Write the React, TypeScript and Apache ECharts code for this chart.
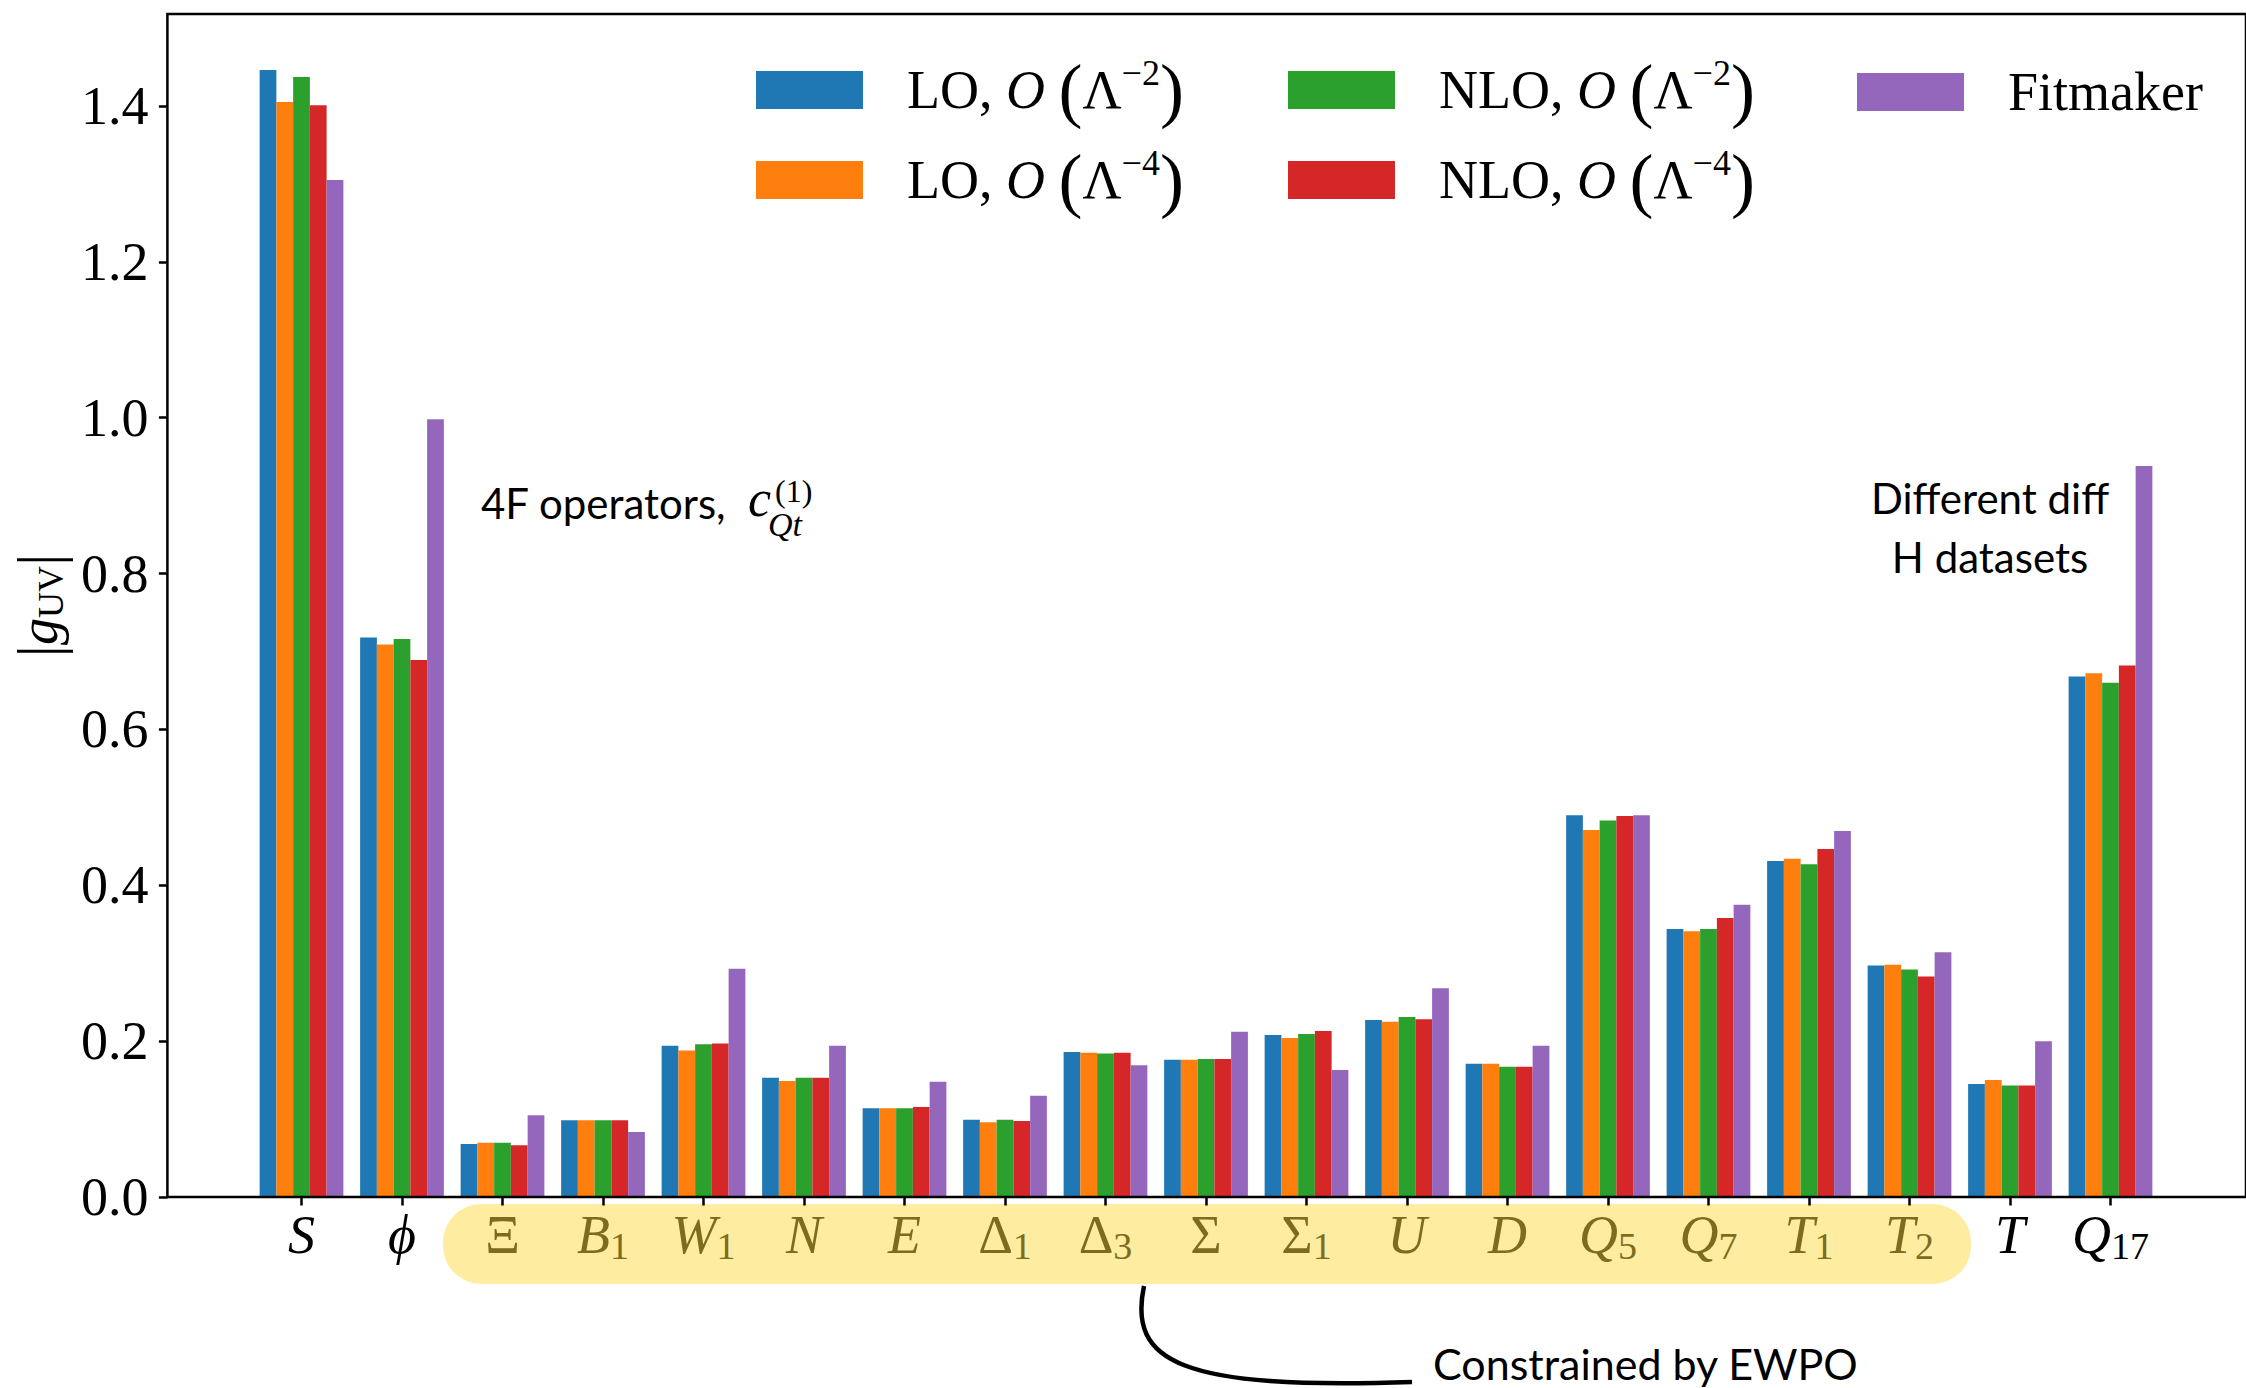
import React, { useEffect, useRef } from 'react';
import * as echarts from 'echarts';

// ---------- data ----------
const categories = ['S', 'ϕ', 'Ξ', 'B1', 'W1', 'N', 'E', 'Δ1', 'Δ3', 'Σ', 'Σ1', 'U', 'D', 'Q5', 'Q7', 'T1', 'T2', 'T', 'Q17'];
const labelBase = ['S', 'ϕ', 'Ξ', 'B', 'W', 'N', 'E', 'Δ', 'Δ', 'Σ', 'Σ', 'U', 'D', 'Q', 'Q', 'T', 'T', 'T', 'Q'];
const labelSub = ['', '', '', '1', '1', '', '', '1', '3', '', '1', '', '', '5', '7', '1', '2', '', '17'];
const labelItalic = [true, true, false, true, true, true, true, false, false, false, false, true, true, true, true, true, true, true, true];
const ewpoFirst = 2;
const ewpoLast = 16;

const seriesNames = ['LO, O(Λ⁻²)', 'LO, O(Λ⁻⁴)', 'NLO, O(Λ⁻²)', 'NLO, O(Λ⁻⁴)', 'Fitmaker'];
const seriesOrder = ['LO', 'LO', 'NLO', 'NLO', ''];
const seriesExp = ['−2', '−4', '−2', '−4', ''];
const seriesColors = ['#1f77b4', '#ff7f0e', '#2ca02c', '#d62728', '#9467bd'];

const loL2 = [1.446, 0.718, 0.068, 0.0985, 0.194, 0.153, 0.114, 0.099, 0.186, 0.176, 0.208, 0.227, 0.171, 0.490, 0.344, 0.431, 0.297, 0.145, 0.668];
const loL4 = [1.405, 0.709, 0.0695, 0.0985, 0.188, 0.149, 0.114, 0.096, 0.185, 0.176, 0.204, 0.225, 0.171, 0.471, 0.341, 0.434, 0.298, 0.150, 0.672];
const nloL2 = [1.437, 0.716, 0.0695, 0.0985, 0.196, 0.153, 0.114, 0.099, 0.184, 0.177, 0.209, 0.231, 0.167, 0.483, 0.344, 0.427, 0.292, 0.143, 0.660];
const nloL4 = [1.401, 0.689, 0.0665, 0.0985, 0.197, 0.153, 0.1155, 0.0976, 0.185, 0.177, 0.213, 0.228, 0.167, 0.489, 0.358, 0.4465, 0.283, 0.143, 0.682];
const fitmaker = [1.305, 0.998, 0.105, 0.0834, 0.293, 0.194, 0.148, 0.130, 0.169, 0.212, 0.163, 0.268, 0.194, 0.490, 0.375, 0.4695, 0.314, 0.200, 0.938];
const seriesData = [loL2, loL4, nloL2, nloL4, fitmaker];

const yTicks = [0, 0.2, 0.4, 0.6, 0.8, 1.0, 1.2, 1.4];
const yMin = 0;
const yMax = 1.518;

// ---------- layout ----------
const W = 2246;
const H = 1388;
const SERIF = '"Liberation Serif", "DejaVu Serif", serif';
const SANS = 'Lato, "Open Sans", "Noto Sans", sans-serif';
const OLIVE = '#7e6c1e';

const frameGrid = { left: 164, top: 14, right: -4, bottom: 191 };
const barGrid = { left: 251.25, top: 14, right: 85.25, bottom: 191 };

const legendLeft = [756, 756, 1288, 1288, 1857];
const legendTop = [54, 144, 54, 144, 65];

function xLabel(value: string, idx: number): string {
  const hl = idx >= ewpoFirst && idx <= ewpoLast;
  const k = hl ? 'o' : 'k';
  const main = (labelItalic[idx] ? 'i' : 'u') + k;
  let s = `{${main}|${labelBase[idx]}}`;
  if (labelSub[idx]) s += `{s${k}|${labelSub[idx]}}`;
  return s;
}

function legendLabel(name: string): string {
  const i = seriesNames.indexOf(name);
  if (!seriesOrder[i]) return `{n|${name}}`;
  return `{n|${seriesOrder[i]}, }{o|O}{n| }{p|(}{n|Λ}{e|${seriesExp[i]}}{p|)}`;
}

export default function App() {
  const ref = useRef<HTMLDivElement>(null);
  useEffect(() => {
    if (!ref.current) return;
    const chart = echarts.init(ref.current, undefined, { renderer: 'svg', width: W, height: H });

    const labelRich: any = {};
    for (const k of ['k', 'o']) {
      const color = k === 'o' ? OLIVE : '#000';
      labelRich['i' + k] = { fontFamily: SERIF, fontStyle: 'italic', fontSize: 54, lineHeight: 60, color };
      labelRich['u' + k] = { fontFamily: SERIF, fontSize: 54, lineHeight: 60, color };
      labelRich['s' + k] = { fontFamily: SERIF, fontSize: 38, lineHeight: 30, verticalAlign: 'bottom', color };
    }

    const legendRich = {
      n: { fontFamily: SERIF, fontSize: 54, lineHeight: 70, color: '#000' },
      o: { fontFamily: SERIF, fontStyle: 'italic', fontSize: 54, lineHeight: 70, color: '#000' },
      p: { fontFamily: SERIF, fontSize: 72, lineHeight: 70, color: '#000' },
      e: { fontFamily: SERIF, fontSize: 36, lineHeight: 40, verticalAlign: 'top', color: '#000' },
    };

    const option: any = {
      animation: false,
      backgroundColor: '#fff',
      grid: [
        { ...frameGrid, show: true, borderColor: '#000', borderWidth: 2.5, backgroundColor: 'transparent', z: 3 },
        { ...barGrid },
      ],
      legend: seriesNames.map((name, i) => ({
        data: [name],
        left: legendLeft[i],
        top: legendTop[i],
        padding: 0,
        orient: 'vertical',
        icon: 'rect',
        itemWidth: 107,
        itemHeight: 38,
        selectedMode: false,
        formatter: legendLabel,
        textStyle: { padding: [0, 0, 0, 39], rich: legendRich, color: '#000' },
      })),
      xAxis: [
        { type: 'value', gridIndex: 0, min: 0, max: 1, show: false },
        {
          type: 'category',
          gridIndex: 1,
          data: categories,
          z: 5,
          axisLine: { show: false },
          axisTick: { show: true, alignWithLabel: true, length: 8.5, lineStyle: { color: '#000', width: 2.5 } },
          axisLabel: { margin: 8, interval: 0, formatter: xLabel, rich: labelRich },
          splitLine: { show: false },
        },
      ],
      yAxis: [
        {
          type: 'value',
          gridIndex: 0,
          min: yMin,
          max: yMax,
          axisLine: { show: false },
          axisTick: { show: true, length: 8.5, lineStyle: { color: '#000', width: 2.5 }, customValues: yTicks },
          axisLabel: {
            margin: 19,
            customValues: yTicks,
            formatter: (v: number) => v.toFixed(1),
            fontFamily: SERIF,
            fontSize: 54,
            color: '#000',
          },
          splitLine: { show: false },
          name: '{b||}{g|g}{s|UV}{b||}',
          nameLocation: 'middle',
          nameRotate: 90,
          nameGap: 92,
          nameTextStyle: {
            rich: {
              b: { fontFamily: SERIF, fontSize: 62, lineHeight: 60, color: '#000' },
              g: { fontFamily: SERIF, fontStyle: 'italic', fontSize: 54, lineHeight: 60, color: '#000' },
              s: { fontFamily: SERIF, fontSize: 36, lineHeight: 34, verticalAlign: 'bottom', color: '#000' },
            },
          },
        },
        { type: 'value', gridIndex: 1, min: yMin, max: yMax, show: false, splitLine: { show: false } },
      ],
      series: seriesNames.map((name, i) => ({
        type: 'bar',
        name,
        xAxisIndex: 1,
        yAxisIndex: 1,
        data: seriesData[i],
        barWidth: 16.75,
        barGap: '0%',
        itemStyle: { color: seriesColors[i] },
      })),
      graphic: [
        {
          type: 'rect',
          z: -1,
          shape: { x: 443, y: 1204, width: 1528, height: 80, r: 38 },
          style: { fill: '#feeda0' },
        },
        {
          type: 'bezierCurve',
          z: 10,
          shape: { x1: 1144, y1: 1286, cpx1: 1128, cpy1: 1362, cpx2: 1180, cpy2: 1390, x2: 1412, y2: 1382 },
          style: { stroke: '#000', lineWidth: 4.5, fill: 'none' },
        },
        {
          type: 'text', z: 10, x: 481, y: 503,
          style: { text: '4F operators,', fontFamily: SANS, fontSize: 42, fill: '#000', align: 'left', verticalAlign: 'middle' },
        },
        {
          type: 'text', z: 10, x: 748, y: 498,
          style: { text: 'c', fontFamily: SERIF, fontStyle: 'italic', fontSize: 52, fill: '#000', align: 'left', verticalAlign: 'middle' },
        },
        {
          type: 'text', z: 10, x: 775, y: 491,
          style: { text: '(1)', fontFamily: SERIF, fontSize: 32, fill: '#000', align: 'left', verticalAlign: 'middle' },
        },
        {
          type: 'text', z: 10, x: 768, y: 524,
          style: { text: 'Qt', fontFamily: SERIF, fontStyle: 'italic', fontSize: 34, fill: '#000', align: 'left', verticalAlign: 'middle' },
        },
        {
          type: 'text', z: 10, x: 1990, y: 498,
          style: { text: 'Different diff', fontFamily: SANS, fontSize: 42, fill: '#000', align: 'center', verticalAlign: 'middle' },
        },
        {
          type: 'text', z: 10, x: 1990, y: 557,
          style: { text: 'H datasets', fontFamily: SANS, fontSize: 42, fill: '#000', align: 'center', verticalAlign: 'middle' },
        },
        {
          type: 'text', z: 10, x: 1433, y: 1363,
          style: { text: 'Constrained by EWPO', fontFamily: SANS, fontSize: 43, fill: '#000', align: 'left', verticalAlign: 'middle' },
        },
      ],
    };

    chart.setOption(option);
    return () => chart.dispose();
  }, []);

  return (
    <div
      ref={ref}
      style={{ position: 'absolute', left: 0, top: 0, width: W, height: H, background: '#fff' }}
    />
  );
}
